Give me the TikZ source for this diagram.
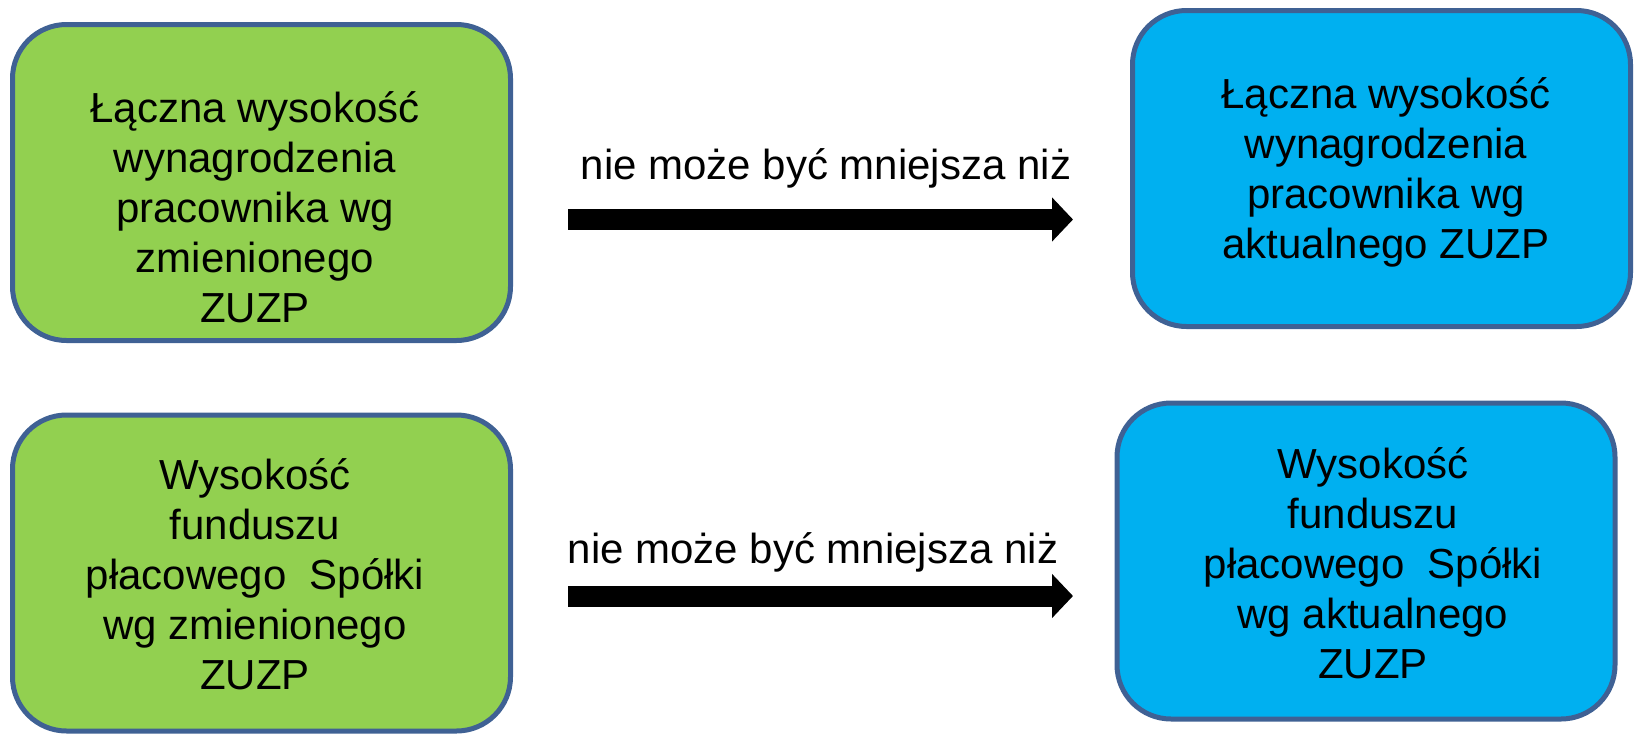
\documentclass[tikz,border=0pt]{standalone}
\usepackage{fontspec}
\setmainfont{Liberation Sans}
\usepackage{xcolor}
\usepackage{tikz}
\usetikzlibrary{arrows.meta}
\definecolor{boxgreen}{HTML}{92D050}
\definecolor{boxblue}{HTML}{00B0F0}
\definecolor{boxline}{HTML}{3F6194}

\begin{document}
\begin{tikzpicture}
  [
    x=0.5pt, y=-0.5pt,
    box/.style={
      rounded corners=27pt,
      draw=boxline,
      line width=2.5pt,
      minimum width=249pt,
      minimum height=158pt,
      inner sep=0pt
    },
    txt/.style={
      align=center,
      font=\fontsize{21}{25}\selectfont,
      inner sep=0pt
    },
    fat/.style={line width=10.5pt,-{Triangle[length=10.5pt,width=21.5pt]}}
  ]
  \useasboundingbox (0,0) rectangle (1634,734);

  \node (box1) at (261.5,182.5) [box, fill=boxgreen] {};
  \node (box2) at (1381.5,168.5) [box, fill=boxblue] {};
  \node (box3) at (261.5,573) [box, fill=boxgreen] {};
  \node (box4) at (1366,561) [box, fill=boxblue] {};

  \node (t1) at (255,207) [txt] {Łączna wysokość\\wynagrodzenia\\pracownika wg\\zmienionego\\ZUZP};
  \node (t2) at (1386,172) [txt] {Łączna wysokość\\wynagrodzenia\\pracownika wg\\aktualnego ZUZP};
  \node (t3) at (255,574) [txt] {Wysokość\\funduszu\\płacowego~ Spółki\\wg zmienionego\\ZUZP};
  \node (t4) at (1373,563) [txt] {Wysokość\\funduszu\\płacowego~ Spółki\\wg aktualnego\\ZUZP};

  \coordinate (s1) at (568,219.5);
  \coordinate (e1) at (1073,219.5);
  \coordinate (s2) at (568,596);
  \coordinate (e2) at (1073,596);

  \node (lab1) at (826,179) [txt, anchor=base] {nie może być mniejsza niż};
  \node (lab2) at (813,563) [txt, anchor=base] {nie może być mniejsza niż};

  \draw [fat] (s1) -- (e1);	% first relation
  \draw [fat] (s2) -- (e2);	% second relation
\end{tikzpicture}
\end{document}
